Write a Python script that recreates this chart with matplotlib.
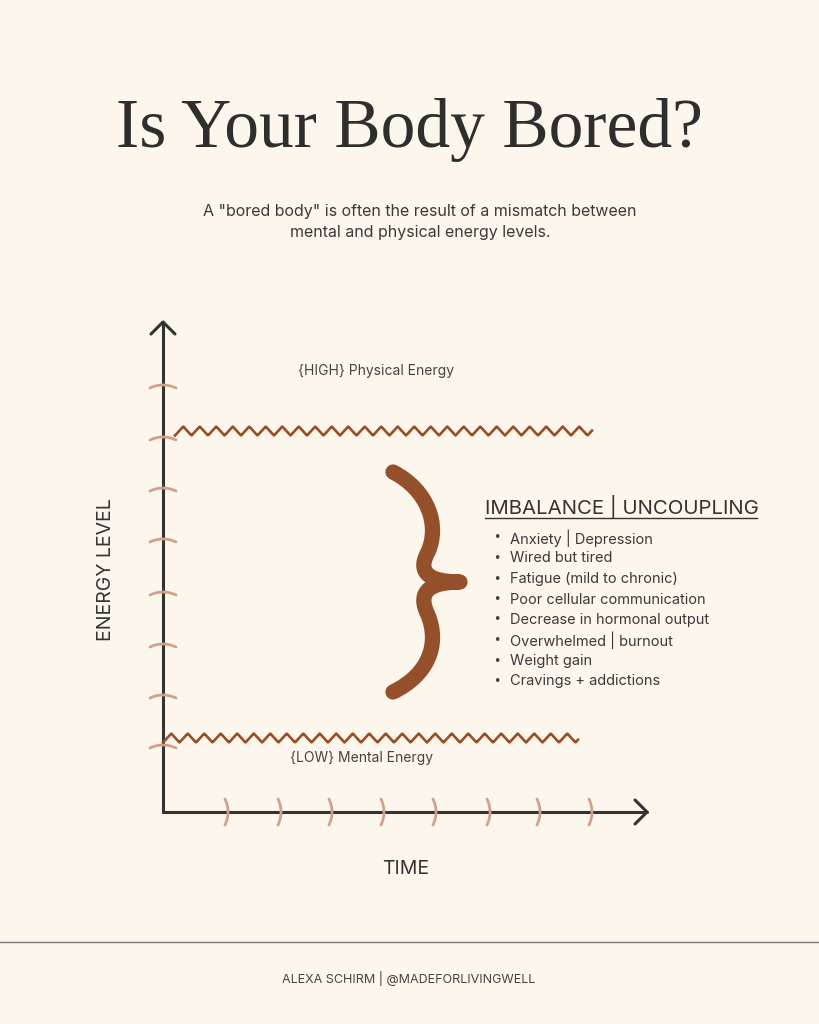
import numpy as np
import matplotlib.pyplot as plt
from matplotlib.path import Path
from matplotlib.patches import PathPatch

BG = '#FDF6EC'
WAVE = '#9A4E27'
BRACE = '#94502B'
TICK = '#D3A08B'
INK = '#333333'

y_ticks = [386, 438, 489, 540, 593, 645, 696, 746]
x_ticks = [226, 279, 330, 382, 434, 488, 538, 590]
high_wave = (175, 592, 431)   # x start, x end, y center
low_wave = (163, 578, 738)
items = ['Anxiety | Depression', 'Wired but tired', 'Fatigue (mild to chronic)',
         'Poor cellular communication', 'Decrease in hormonal output',
         'Overwhelmed | burnout', 'Weight gain', 'Cravings + addictions']

fig = plt.figure(figsize=(8.19, 10.24), dpi=100, facecolor=BG)
ax = fig.add_axes([0, 0, 1, 1])
ax.set_xlim(0, 819)
ax.set_ylim(1024, 0)
ax.axis('off')
ax.set_facecolor(BG)

ax.text(409, 130, 'Is Your Body Bored?', ha='center', va='center',
        fontsize=50, family='Liberation Serif', color='#2e2e2e')
ax.text(420, 222, 'A "bored body" is often the result of a mismatch between\nmental and physical energy levels.',
        ha='center', va='center', fontsize=11.5, family='Inter', color='#3a3a3a', linespacing=1.5)

# axes
ax.plot([163, 163], [812, 322], color=INK, lw=2.2, solid_capstyle='round')
ax.plot([163, 647], [812, 812], color=INK, lw=2.2, solid_capstyle='round')
ax.plot([151, 163, 175], [334, 322, 334], color=INK, lw=2.2, solid_capstyle='round')
ax.plot([635, 647, 635], [800, 812, 824], color=INK, lw=2.2, solid_capstyle='round')

# ticks
t = np.linspace(-1, 1, 20)
for y in y_ticks:
    ax.plot(163 + 13 * t, y + 3 * t ** 2 - 1, color=TICK, lw=2, solid_capstyle='round')
for x in x_ticks:
    ax.plot(x + 3 * (1 - t ** 2) - 1, 812 + 13 * t, color=TICK, lw=2, solid_capstyle='round')

# waves
for x0, x1, yc in [high_wave, low_wave]:
    xs = np.linspace(x0, x1, 600)
    ys = yc + 4.5 * np.abs(((xs - x0) / 16.5) % 1 * 2 - 1) * 2 - 4.5
    ax.plot(xs, ys, color=WAVE, lw=1.9)

ax.text(376, 371, '{HIGH} Physical Energy', ha='center', va='center',
        fontsize=10, family='Inter', color='#444444')
ax.text(361, 758, '{LOW} Mental Energy', ha='center', va='center',
        fontsize=10, family='Inter', color='#444444')

# brace
verts = [(393, 472), (428, 490), (440, 525), (428, 552),
         (418, 570), (425, 582), (460, 582),
         (425, 582), (418, 595), (428, 615),
         (440, 645), (428, 675), (393, 692)]
codes = [Path.MOVETO] + [Path.CURVE4] * 12
ax.add_patch(PathPatch(Path(verts, codes), fill=False, edgecolor=BRACE,
                       lw=11, capstyle='round', joinstyle='round'))

ax.text(485, 507, 'IMBALANCE | UNCOUPLING', ha='left', va='center',
        fontsize=14.7, family='Inter', color='#333333')
ax.plot([485, 757], [518, 518], color='#333333', lw=1)
for i, s in enumerate(items):
    y = 538 + i * 20.5
    ax.text(497, y, '•', ha='center', va='center', fontsize=9, color='#444444')
    ax.text(510, y, s, ha='left', va='center', fontsize=10.5, family='Inter', color='#3a3a3a')

ax.text(106, 570, 'ENERGY LEVEL', rotation=90, ha='center', va='center',
        fontsize=14, family='Inter', color='#333333')
ax.text(406, 869, 'TIME', ha='center', va='center', fontsize=14, family='Inter', color='#333333')

ax.plot([0, 819], [942, 942], color='#777777', lw=1)
ax.text(409, 978, 'ALEXA SCHIRM | @MADEFORLIVINGWELL', ha='center', va='center',
        fontsize=9, family='Inter', color='#444444')

fig.savefig('out.png', dpi=100, facecolor=BG)
